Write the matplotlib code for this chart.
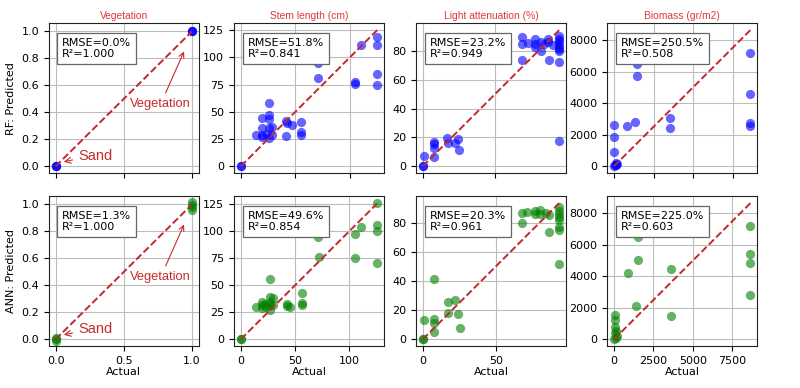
import matplotlib
matplotlib.use("Agg")
import matplotlib.pyplot as plt

# ---- data ----
titles = ["Vegetation", "Stem length (cm)", "Light attenuation (%)", "Biomass (gr/m2)"]
row_labels = ["RF: Predicted", "ANN: Predicted"]

rf_veg_act = [0, 0, 0, 1, 1, 1]
rf_veg_pred = [0, 0, 0, 1, 1, 1]
ann_veg_act = [0, 0, 0, 1, 1, 1, 1]
ann_veg_pred = [0, -0.01, 0.01, 1.017, 0.997, 0.98, 0.96]

rf_stem_act = [0, 0, 13.7, 19.2, 19.2, 19.2, 19.2, 26, 26, 26, 26, 26, 24, 29, 29,
               41.7, 41.7, 42.5, 47, 55, 55, 55, 71, 71, 71, 104.6, 104.6, 110,
               125, 125, 125, 125]
rf_stem_pred = [0, 0, 28.5, 44.5, 34.7, 28.5, 27, 57.7, 47, 43, 35, 25.5, 30, 36, 28.5,
                41.5, 28, 40, 38, 41, 31.6, 28.5, 109, 95, 80.7, 77.6, 75.5, 111.7,
                118.5, 111.5, 84.5, 74.7]
ann_stem_act = [0, 0, 14.2, 19.8, 19.8, 19.8, 22, 23.5, 26.6, 26.6, 26.6, 26.6, 26.6,
                29.5, 29.5, 42.7, 42.7, 45, 56, 56, 56, 71.5, 72.4, 105.6, 105.6,
                110.8, 125.7, 125.7, 125.7, 125.7]
ann_stem_pred = [0, 0, 29.7, 34.6, 31.5, 28.5, 33, 30, 55.6, 39, 34.6, 31.5, 26.9,
                 38, 31.5, 33, 30.6, 30, 43, 33.7, 31.5, 94.3, 76.4, 97.7, 75.4,
                 103.6, 126, 105.4, 100, 70.8]

rf_light_act = [0, 0, 0.5, 7.9, 7.9, 7.9, 7.9, 17, 17.6, 22, 24.5, 25,
                68.5, 68.5, 68.5, 73, 78, 78, 78, 82, 82, 84, 87, 87, 87.5, 90,
                94.4, 94.4, 94.4, 94.4, 94.4, 94.4, 94.4, 94.4, 94.4]
rf_light_pred = [0, 0, 7, 17, 15.6, 12.5, 6.5, 19.8, 15.8, 16.3, 18.6, 11.6,
                 89.3, 84.7, 74, 85.3, 88.4, 85, 83, 86, 80, 85, 88, 86, 74, 84,
                 90, 88, 86.5, 85, 83, 81.5, 80, 72, 17.4]
ann_light_act = [0, 0, 0.5, 8, 8, 8, 8, 17, 17.4, 22, 24.4, 25.3,
                 67.8, 67.8, 71.7, 77, 77, 80, 80, 84.5, 86.5, 86.5,
                 93.4, 93.4, 93.4, 93.4, 93.4, 93.4, 93.4, 93.4]
ann_light_pred = [0, 0, 13.5, 41.6, 14.2, 10.9, 4.9, 18.1, 25.6, 27, 17.4, 7.7,
                  86.3, 79.8, 87.2, 88, 86, 88.5, 86, 86.5, 85, 73.3,
                  91, 88, 86, 84, 82, 77, 75, 51.4]

rf_bio_act = [0, 50, 150, 200, 100, 0, 0, 0, 810, 1340, 1470, 1470, 3540, 3540,
              8630, 8630, 8630, 8630]
rf_bio_pred = [0, 50, 100, 150, 200, 900, 1860, 2610, 2545, 2820, 6480, 5730, 3060,
               2440, 7160, 4580, 2720, 2570]
ann_bio_act = [0, 100, 200, 50, 85, 60, 40, 100, 890, 1420, 1540, 1540, 3590, 3590,
               8640, 8640, 8640, 8640]
ann_bio_pred = [0, 100, 200, 400, 1520, 1200, 800, 500, 4230, 2140, 6520, 5020, 4490,
                1500, 7170, 5420, 4850, 2810]

rmse_rf = ["0.0%", "51.8%", "23.2%", "250.5%"]
r2_rf = ["1.000", "0.841", "0.949", "0.508"]
rmse_ann = ["1.3%", "49.6%", "20.3%", "225.0%"]
r2_ann = ["1.000", "0.854", "0.961", "0.603"]

rows = [
    ([rf_veg_act, rf_stem_act, rf_light_act, rf_bio_act],
     [rf_veg_pred, rf_stem_pred, rf_light_pred, rf_bio_pred], rmse_rf, r2_rf, "blue"),
    ([ann_veg_act, ann_stem_act, ann_light_act, ann_bio_act],
     [ann_veg_pred, ann_stem_pred, ann_light_pred, ann_bio_pred], rmse_ann, r2_ann, "green"),
]

xticks = [[0, 0.5, 1.0], [0, 50, 100], [0, 50], [0, 2500, 5000, 7500]]
yticks = [[0, 0.2, 0.4, 0.6, 0.8, 1.0], [0, 25, 50, 75, 100, 125],
          [0, 20, 40, 60, 80], [0, 2000, 4000, 6000, 8000]]

ann_red = "#c82a2a"
title_red = "#e0393b"

fig = plt.figure(figsize=(8, 3.88), dpi=100)
lefts = [0.061, 0.2925, 0.52, 0.759]
bottoms = [0.554, 0.108]
w, h = 0.1875, 0.386

for r, (acts, preds, rmses, r2s, col) in enumerate(rows):
    for c in range(4):
        ax = fig.add_axes([lefts[c], bottoms[r], w, h])
        ax.set_axisbelow(True)
        ax.grid(True, color="#bdbdbd", linewidth=0.8)
        ax.scatter(acts[c], preds[c], s=44, color=col, alpha=0.6, linewidths=0, zorder=2)
        m = max(acts[c])
        ax.plot([0, m], [0, m], "--", color="#c0282d", linewidth=1.4, zorder=3)
        ax.set_xticks(xticks[c])
        ax.set_yticks(yticks[c])
        if c == 0:
            ax.set_xlim(-0.05, 1.05)
            ax.set_ylim(-0.05, 1.06)
            ax.set_ylabel(row_labels[r], fontsize=8)
            ax.annotate("Sand", xy=(0.04, 0.03), xytext=(0.29, 0.08),
                        ha="center", va="center", fontsize=10.5, color=ann_red,
                        family="Liberation Sans",
                        arrowprops=dict(arrowstyle="->", color=ann_red, lw=0.8))
            ax.annotate("Vegetation", xy=(0.95, 0.87), xytext=(0.77, 0.46),
                        ha="center", va="center", fontsize=9.3, color=ann_red,
                        family="Liberation Sans",
                        arrowprops=dict(arrowstyle="->", color=ann_red, lw=0.8))
        ax.tick_params(labelsize=8, length=3.5, width=0.8)
        if r == 0:
            ax.tick_params(labelbottom=False)
            ax.set_title(titles[c], fontsize=7.4, color=title_red,
                         family="Liberation Sans", pad=3)
        else:
            ax.set_xlabel("Actual", fontsize=8, labelpad=1)
        label = "RMSE=%s\nR²=%s" % (rmses[c], r2s[c])
        ax.text(0.09, 0.9, label,
                transform=ax.transAxes, ha="left", va="top", fontsize=8,
                linespacing=1.1, zorder=5,
                bbox=dict(boxstyle="square,pad=0.45", facecolor="white",
                          edgecolor="#666666", linewidth=0.9))
        for s in ax.spines.values():
            s.set_color("#222222")

fig.savefig("out.png", dpi=100)
